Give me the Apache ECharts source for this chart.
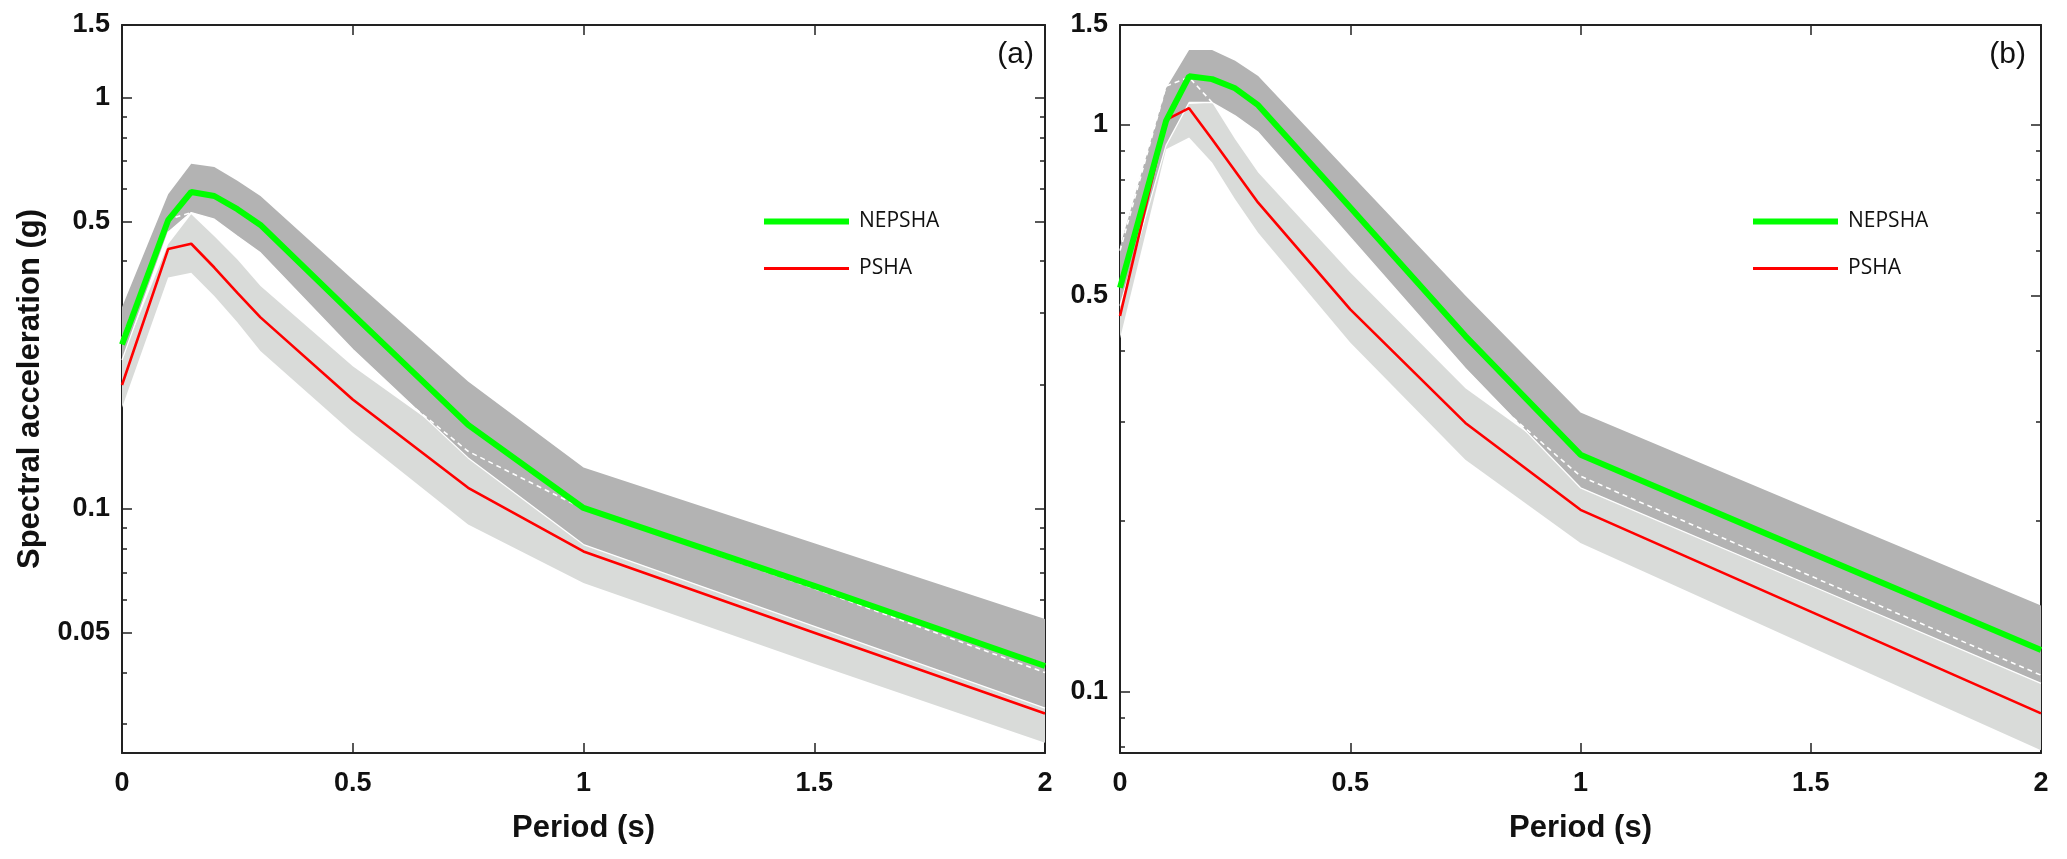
<!DOCTYPE html>
<html>
<head>
<meta charset="utf-8">
<script src="https://cdn.jsdelivr.net/npm/echarts@6/dist/echarts.min.js"></script>
<style>
html,body{margin:0;padding:0;background:#fff;}
#chart{width:2067px;height:859px;}
</style>
</head>
<body>
<div id="chart"></div>
<script>
// ---------- data ----------
const periods = [0, 0.1, 0.15, 0.2, 0.25, 0.3, 0.5, 0.75, 1, 1.5, 2];

// panel (a)
const nepshaA   = [0.251, 0.503, 0.589, 0.576, 0.535, 0.49, 0.297, 0.16, 0.1005, 0.065, 0.0415];
const pshaA     = [0.2, 0.428, 0.441, 0.386, 0.335, 0.292, 0.1845, 0.1125, 0.0788, 0.05, 0.0318];
const darkLoA   = [0.23, 0.47, 0.525, 0.506, 0.46, 0.419, 0.244, 0.133, 0.0819, 0.0518, 0.0328];
const darkHiA   = [0.309, 0.582, 0.69, 0.678, 0.627, 0.576, 0.361, 0.204, 0.126, 0.0825, 0.054];
const lightLoA  = [0.176, 0.365, 0.375, 0.329, 0.284, 0.242, 0.153, 0.0916, 0.066, 0.042, 0.027];
const lightHiA  = [0.233, 0.44, 0.52, 0.46, 0.404, 0.348, 0.222, 0.14, 0.095, 0.062, 0.042];
const dashA     = [0.26, 0.505, 0.525, 0.48, 0.43, 0.38, 0.233, 0.138, 0.1, 0.064, 0.040];

// panel (b)
const nepshaB   = [0.516, 1.016, 1.218, 1.204, 1.16, 1.083, 0.715, 0.424, 0.262, 0.176, 0.1185];
const pshaB     = [0.46, 1.02, 1.07, 0.943, 0.829, 0.729, 0.4725, 0.298, 0.2094, 0.1385, 0.0916];
const darkLoB   = [0.48, 0.92, 1.095, 1.095, 1.037, 0.97, 0.633, 0.372, 0.229, 0.154, 0.1035];
const darkHiB   = [0.61, 1.16, 1.355, 1.355, 1.297, 1.22, 0.82, 0.5, 0.311, 0.21, 0.142];
const lightLoB  = [0.42, 0.906, 0.95, 0.858, 0.739, 0.645, 0.413, 0.2566, 0.183, 0.12, 0.0789];
const lightHiB  = [0.48, 1.1, 1.088, 1.095, 0.943, 0.824, 0.549, 0.343, 0.245, 0.165, 0.11];
const dashB     = [0.6, 1.17, 1.213, 1.095, 1.0, 0.9, 0.6, 0.36, 0.24, 0.16, 0.107];

// axis ranges & ticks
const yMinA = 0.0255, yMaxA = 1.5;
const yMinB = 0.078,  yMaxB = 1.5;
const yLabelsA = [0.05, 0.1, 0.5, 1, 1.5];
const yMinorA  = [0.03, 0.04, 0.06, 0.07, 0.08, 0.09, 0.2, 0.3, 0.4, 0.6, 0.7, 0.8, 0.9];
const yLabelsB = [0.1, 0.5, 1, 1.5];
const yMinorB  = [0.08, 0.09, 0.2, 0.3, 0.4, 0.6, 0.7, 0.8, 0.9];
const xMin = 0, xMax = 2, xStep = 0.5;

const seriesNames = ['NEPSHA', 'PSHA'];
const panelTags = ['(a)', '(b)'];

// ---------- styling ----------
const AX = '#222';
const DARK = '#b3b3b3';
const LIGHT = '#d9dbd9';
const GREEN = '#00ff00';
const RED = '#ff0000';
const tickFont = {fontFamily: 'Liberation Sans', fontWeight: 'bold', fontSize: 27, color: '#111'};

function pairs(ys){ return periods.map((p,i)=>[p, ys[i]]); }
const lg = Math.log10;

// filled band between lo and hi, drawn as one polygon through the axes' scales
function band(id, lo, hi, color, xi, yi){
  const rows = periods.map((p,i)=>[p, lo[i], hi[i]]);
  return {
    type:'custom', name:id, xAxisIndex:xi, yAxisIndex:yi, silent:true, z:1,
    data: rows,
    encode:{x:0, y:[1,2]},
    renderItem: function(params, api){
      if (params.dataIndex !== 0) return null;
      const top = [], bot = [];
      for (let i = 0; i < rows.length; i++){
        top.push(api.coord([rows[i][0], rows[i][2]]));
        bot.push(api.coord([rows[i][0], rows[i][1]]));
      }
      const pts = top.concat(bot.reverse());
      return {type:'polygon', shape:{points:pts}, style:{fill:color, stroke:null}};
    }
  };
}

function labelFmt(labels){
  return function(v){
    const l = labels.find(x => Math.abs(lg(x) - v) < 1e-6);
    return l === undefined ? '' : String(l);
  };
}

const grids = [
  {left:122, width:923, top:25, height:728},
  {left:1120, width:921, top:25, height:728}
];

const xAxes = [];
[0,1].forEach(g=>{
  xAxes.push({type:'value', gridIndex:g, min:xMin, max:xMax, interval:xStep, position:'bottom',
    axisLine:{show:true, onZero:false, lineStyle:{color:AX, width:2}},
    axisTick:{show:true, inside:true, length:10, lineStyle:{color:AX, width:1.5}},
    axisLabel:Object.assign({margin:17}, tickFont),
    splitLine:{show:false},
    name:'Period (s)', nameLocation:'middle', nameGap:60,
    nameTextStyle:{fontFamily:'Liberation Sans', fontWeight:'bold', fontSize:31, color:'#111'}
  });
  xAxes.push({type:'value', gridIndex:g, min:xMin, max:xMax, interval:xStep, position:'top',
    axisLine:{show:true, onZero:false, lineStyle:{color:AX, width:2}},
    axisTick:{show:true, inside:true, length:10, lineStyle:{color:AX, width:1.5}},
    axisLabel:{show:false}, splitLine:{show:false}
  });
});

const yAxes = [];
function addY(g, ymin, ymax, labels, minor, withName){
  yAxes.push({type:'log', logBase:10, gridIndex:g, min:ymin, max:ymax, position:'left',
    axisLine:{show:true, onZero:false, lineStyle:{color:AX, width:2}},
    axisTick:{show:false}, axisLabel:{show:false}, splitLine:{show:false}, minorTick:{show:false},
    name: withName ? 'Spectral acceleration (g)' : '',
    nameLocation:'middle', nameGap:76,
    nameTextStyle:{fontFamily:'Liberation Sans', fontWeight:'bold', fontSize:31, color:'#111'}
  });
  const lmin = lg(ymin), lmax = lg(ymax);
  const base = {type:'value', gridIndex:g, min:lmin, max:lmax, splitLine:{show:false}};
  yAxes.push(Object.assign({}, base, {position:'left',
    axisLine:{show:false},
    axisTick:{show:true, inside:true, length:10, lineStyle:{color:AX, width:1.5}, customValues:labels.map(lg)},
    axisLabel:Object.assign({show:true, margin:12, customValues:labels.map(lg), formatter:labelFmt(labels)}, tickFont)
  }));
  yAxes.push(Object.assign({}, base, {position:'left',
    axisLine:{show:false},
    axisTick:{show:true, inside:true, length:5, lineStyle:{color:AX, width:1.5}, customValues:minor.map(lg)},
    axisLabel:{show:false}
  }));
  yAxes.push(Object.assign({}, base, {position:'right',
    axisLine:{show:true, onZero:false, lineStyle:{color:AX, width:2}},
    axisTick:{show:true, inside:true, length:10, lineStyle:{color:AX, width:1.5}, customValues:labels.map(lg)},
    axisLabel:{show:false}
  }));
  yAxes.push(Object.assign({}, base, {position:'right',
    axisLine:{show:false},
    axisTick:{show:true, inside:true, length:5, lineStyle:{color:AX, width:1.5}, customValues:minor.map(lg)},
    axisLabel:{show:false}
  }));
}
addY(0, yMinA, yMaxA, yLabelsA, yMinorA, true);
addY(1, yMinB, yMaxB, yLabelsB, yMinorB, false);

function panelSeries(xi, yi, lightLo, lightHi, darkLo, darkHi, dash, psha, nepsha, tag){
  return [
    band('light'+tag, lightLo, lightHi, LIGHT, xi, yi),
    band('dark'+tag, darkLo, darkHi, DARK, xi, yi),
    {type:'line', name:'edge'+tag, data:pairs(darkLo), xAxisIndex:xi, yAxisIndex:yi, symbol:'none',
     lineStyle:{color:'#ffffff', width:1.3}, silent:true, z:3},
    {type:'line', name:'dash'+tag, data:pairs(dash), xAxisIndex:xi, yAxisIndex:yi, symbol:'none',
     lineStyle:{color:'#ffffff', width:1.6, type:[5,4]}, silent:true, z:3},
    {type:'line', name:seriesNames[1], data:pairs(psha), xAxisIndex:xi, yAxisIndex:yi, symbol:'none',
     lineStyle:{color:RED, width:2.6}, itemStyle:{color:RED}, z:4},
    {type:'line', name:seriesNames[0], data:pairs(nepsha), xAxisIndex:xi, yAxisIndex:yi, symbol:'none',
     lineStyle:{color:GREEN, width:6}, itemStyle:{color:GREEN}, z:5}
  ];
}

const series = [].concat(
  panelSeries(0, 0, lightLoA, lightHiA, darkLoA, darkHiA, dashA, pshaA, nepshaA, 'A'),
  panelSeries(2, 5, lightLoB, lightHiB, darkLoB, darkHiB, dashB, pshaB, nepshaB, 'B')
);

const legendText = {fontFamily:'Open Sans', fontSize:21, color:'#111', padding:[0,0,0,5]};
function legendItem(name, color, h, left, centerY){
  return {data:[{name:name, itemStyle:{color:color}}], icon:'rect', itemWidth:85, itemHeight:h,
    left:left, top:centerY-14, padding:0, selectedMode:false, textStyle:legendText, orient:'vertical'};
}

const tagStyle = {fontFamily:'Liberation Sans', fontWeight:'normal', fontSize:30, color:'#111'};
const option = {
  animation:false,
  backgroundColor:'#ffffff',
  title:[
    {text:panelTags[0], right:2067-1034, top:40, padding:0, textStyle:tagStyle},
    {text:panelTags[1], right:2067-2026, top:40, padding:0, textStyle:tagStyle}
  ],
  legend:[
    legendItem(seriesNames[0], GREEN, 6, 764, 225),
    legendItem(seriesNames[1], RED, 3, 764, 272),
    legendItem(seriesNames[0], GREEN, 6, 1753, 225),
    legendItem(seriesNames[1], RED, 3, 1753, 272)
  ],
  grid:grids,
  xAxis:xAxes,
  yAxis:yAxes,
  series:series
};

const chart = echarts.init(document.getElementById('chart'), null, {renderer:'canvas'});
chart.setOption(option);
</script>
</body>
</html>
